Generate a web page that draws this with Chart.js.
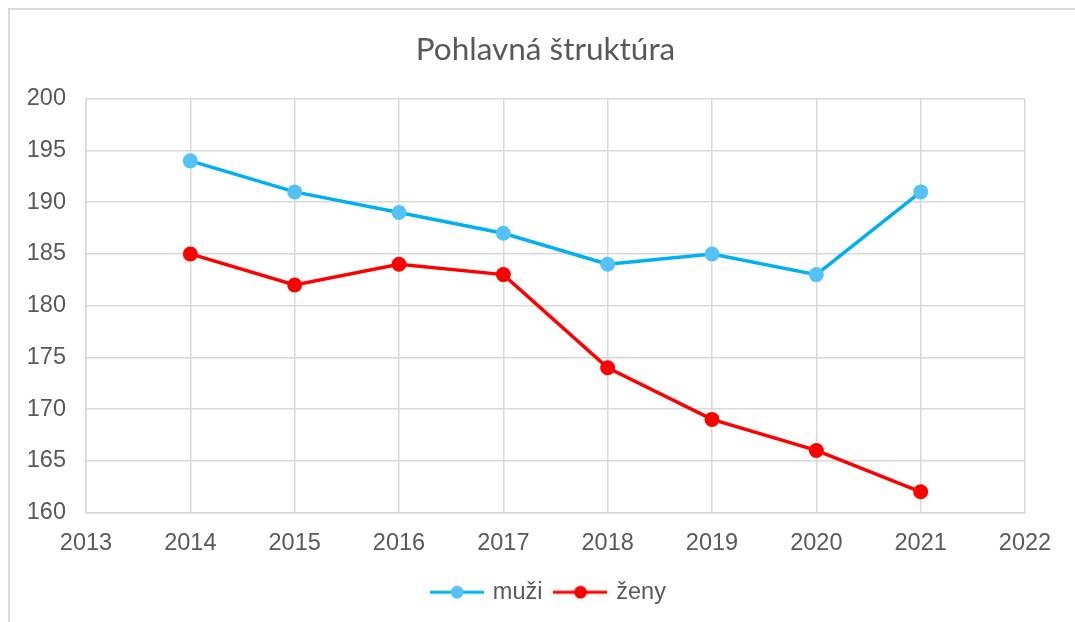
<!DOCTYPE html>
<html>
<head>
<meta charset="utf-8">
<script src="https://cdn.jsdelivr.net/npm/chart.js@4/dist/chart.umd.min.js"></script>
<style>
  html, body { margin: 0; padding: 0; background: #ffffff; }
  #wrap { position: relative; width: 1075px; height: 622px; overflow: hidden; }
  #frame { position: absolute; left: 8px; top: 8px; width: 2000px; height: 2000px;
           border-left: 2px solid #d9d9d9; border-top: 2px solid #d9d9d9; pointer-events: none; }
  canvas { position: absolute; left: 0; top: 0; }
</style>
</head>
<body>
<div id="wrap">
  <div id="frame"></div>
  <canvas id="c" width="1075" height="622"></canvas>
</div>
<script>
const years = [2014, 2015, 2016, 2017, 2018, 2019, 2020, 2021];
const muzi = [194, 191, 189, 187, 184, 185, 183, 191];
const zeny = [185, 182, 184, 183, 174, 169, 166, 162];
const seriesNames = ['muži', 'ženy'];
const chartTitle = 'Pohlavná štruktúra';

function legendIcon(lineColor, dotColor) {
  const cv = document.createElement('canvas');
  cv.width = 54; cv.height = 14;
  const g = cv.getContext('2d');
  g.strokeStyle = lineColor; g.lineWidth = 3;
  g.beginPath(); g.moveTo(0, 7); g.lineTo(54, 7); g.stroke();
  g.fillStyle = dotColor;
  g.beginPath(); g.arc(27, 7, 6.5, 0, Math.PI * 2); g.fill();
  return cv;
}

const blueLine = '#00B0F0', blueDot = '#55C2F6';
const redLine = '#FF0000', redDot = '#FF0000';
const icons = [legendIcon(blueLine, blueDot), legendIcon(redLine, redDot)];

const toXY = (vals) => vals.map((v, i) => ({ x: years[i], y: v }));
const tickFont = { family: '"Liberation Sans", Arial, sans-serif', size: 23.5 };

// shift the title and legend boxes to be centred on the whole frame like the original
const shiftBoxes = {
  id: 'shiftBoxes',
  afterLayout(chart) {
    if (chart.legend) { chart.legend.left += 37; chart.legend.right += 37; }
    if (chart.titleBlock) { chart.titleBlock.left += 33; chart.titleBlock.right += 33; }
  }
};

new Chart(document.getElementById('c'), {
  type: 'line',
  plugins: [shiftBoxes],
  data: {
    datasets: [
      { label: seriesNames[0], data: toXY(muzi), borderColor: blueLine, backgroundColor: blueDot,
        pointBackgroundColor: blueDot, pointBorderWidth: 0, pointRadius: 7.5, pointHoverRadius: 7.5,
        borderWidth: 3.5, tension: 0, pointStyle: 'circle' },
      { label: seriesNames[1], data: toXY(zeny), borderColor: redLine, backgroundColor: redDot,
        pointBackgroundColor: redDot, pointBorderWidth: 0, pointRadius: 7.5, pointHoverRadius: 7.5,
        borderWidth: 3.5, tension: 0, pointStyle: 'circle' }
    ]
  },
  options: {
    responsive: false,
    animation: false,
    devicePixelRatio: 1,
    layout: { padding: { left: 0, right: 50, top: 0, bottom: 8 } },
    plugins: {
      title: {
        display: true, text: chartTitle, color: '#595959',
        font: { family: 'Lato, "Liberation Sans", sans-serif', size: 31.5, weight: 'normal' },
        padding: { top: 31, bottom: 30 }
      },
      legend: {
        position: 'bottom',
        labels: {
          usePointStyle: true,
          pointStyleWidth: 48,
          color: '#595959',
          font: tickFont,
          padding: 14,
          generateLabels: (chart) => chart.data.datasets.map((ds, i) => ({
            text: ds.label, pointStyle: icons[i], fillStyle: ds.backgroundColor,
            strokeStyle: ds.borderColor, lineWidth: 0, datasetIndex: i, fontColor: '#595959'
          }))
        }
      },
      tooltip: { enabled: false }
    },
    scales: {
      x: {
        type: 'linear', min: 2013, max: 2022,
        ticks: { stepSize: 1, color: '#595959', padding: 17, font: tickFont,
                 callback: (v) => String(v) },
        grid: { color: '#d9d9d9', lineWidth: 1.5, drawTicks: false },
        border: { color: '#d9d9d9', width: 1.5 },
        afterFit: (s) => { s.height = 54; }
      },
      y: {
        min: 160, max: 200,
        ticks: { stepSize: 5, color: '#595959', padding: 20, font: tickFont },
        grid: { color: '#d9d9d9', lineWidth: 1.5, drawTicks: false },
        border: { color: '#d9d9d9', width: 1.5 },
        afterFit: (s) => { s.width = 86; }
      }
    }
  }
});
</script>
</body>
</html>
